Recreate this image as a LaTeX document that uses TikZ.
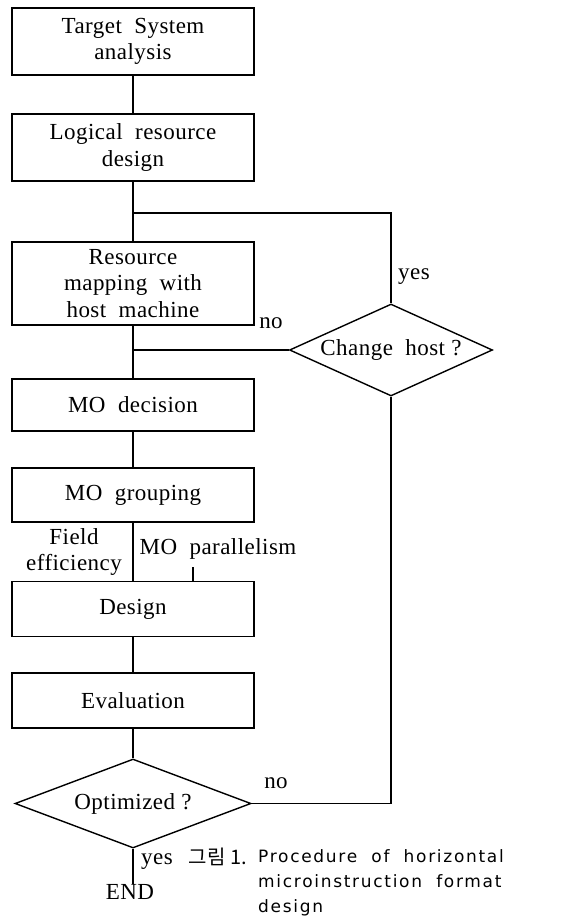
\documentclass[tikz,border=0pt]{standalone}
\usepackage{fontspec}
\usetikzlibrary{shapes.geometric}
\setmainfont{Liberation Serif}[LetterSpace=2]
\newfontfamily\capfont{DejaVu Sans}[LetterSpace=10]
\newfontfamily\korfont{Noto Sans CJK KR}
\begin{document}
\begin{tikzpicture}[x=1pt,y=-1pt,
  every node/.style={font=\fontsize{23}{26.5}\selectfont},
  box/.style={draw,line width=1.4pt,minimum width=242pt,inner sep=0pt,align=center},
  dia/.style={draw,line width=1.4pt,diamond,inner sep=0pt},
  conn/.style={line width=1.4pt},
  lbl/.style={inner sep=0pt}]
\useasboundingbox (0,0) rectangle (573,917);
\node[box,minimum height=67pt] (b1) at (133,41.5) {Target\ \ System\\analysis};
\node[box,minimum height=67pt] (b2) at (133,147.5) {Logical\ \ resource\\design};
\node[box,minimum height=83pt] (b3) at (133,283.5) {Resource\\mapping\ \ with\\host\ \ machine};
\node[box,minimum height=52pt] (b4) at (133,405) {MO\ \ decision};
\node[box,minimum height=54pt] (b5) at (133,495) {MO\ \ grouping};
\node[box,minimum height=55pt] (b6) at (133,609) {Design};
\node[box,minimum height=55pt] (b7) at (133,700.5) {Evaluation};
\node[dia,shape aspect=2.2,minimum width=203pt,minimum height=92pt] (d1) at (391,350) {Change\ \ host ?};
\node[dia,shape aspect=2.65,minimum width=236pt,minimum height=89pt] (d2) at (133,803.5) {Optimized ?};
\node[lbl] (endn) at (130,892) {END};
\coordinate (j1) at (133,213);
\coordinate (j2) at (133,350);
\coordinate (tick) at (193,567);
\draw[conn] (b1.south) -- (b2.north);
\draw[conn] (b2.south) -- (b3.north);
\draw[conn] (j1) -| (d1.north);
\draw[conn] (b3.south) -- (b4.north);
\draw[conn] (d1.west) -- (j2);
\draw[conn] (b4.south) -- (b5.north);
\draw[conn] (b5.south) -- (b6.north);
\draw[conn] (tick) -- (tick |- b6.north);
\draw[conn] (b6.south) -- (b7.north);
\draw[conn] (b7.south) -- (d2.north);
\draw[conn] (d2.east) -| (d1.south);
\draw[conn] (d2.south) -- (d2.south |- endn.north);
\node[lbl] (yes1) at (414,277) {yes};
\node[lbl] (no1) at (271,323) {no};
\node[lbl,align=center] (fe) at (74,552) {Field\\efficiency};
\node[lbl] (mop) at (218,549) {MO\ \ parallelism};
\node[lbl] (no2) at (276,783) {no};
\node[lbl] (yes2) at (157,862) {yes};
\node[lbl,anchor=base east,font=\korfont\fontsize{20}{25}\selectfont] (capno) at (247,864) {그림 1.};
\node[lbl,anchor=north west,align=left,font=\capfont\fontsize{17}{25}\selectfont] (cap) at (258,849) {Procedure\ \ of\ \ horizontal\\microinstruction\ \ format\\design};
\end{tikzpicture}
\end{document}
